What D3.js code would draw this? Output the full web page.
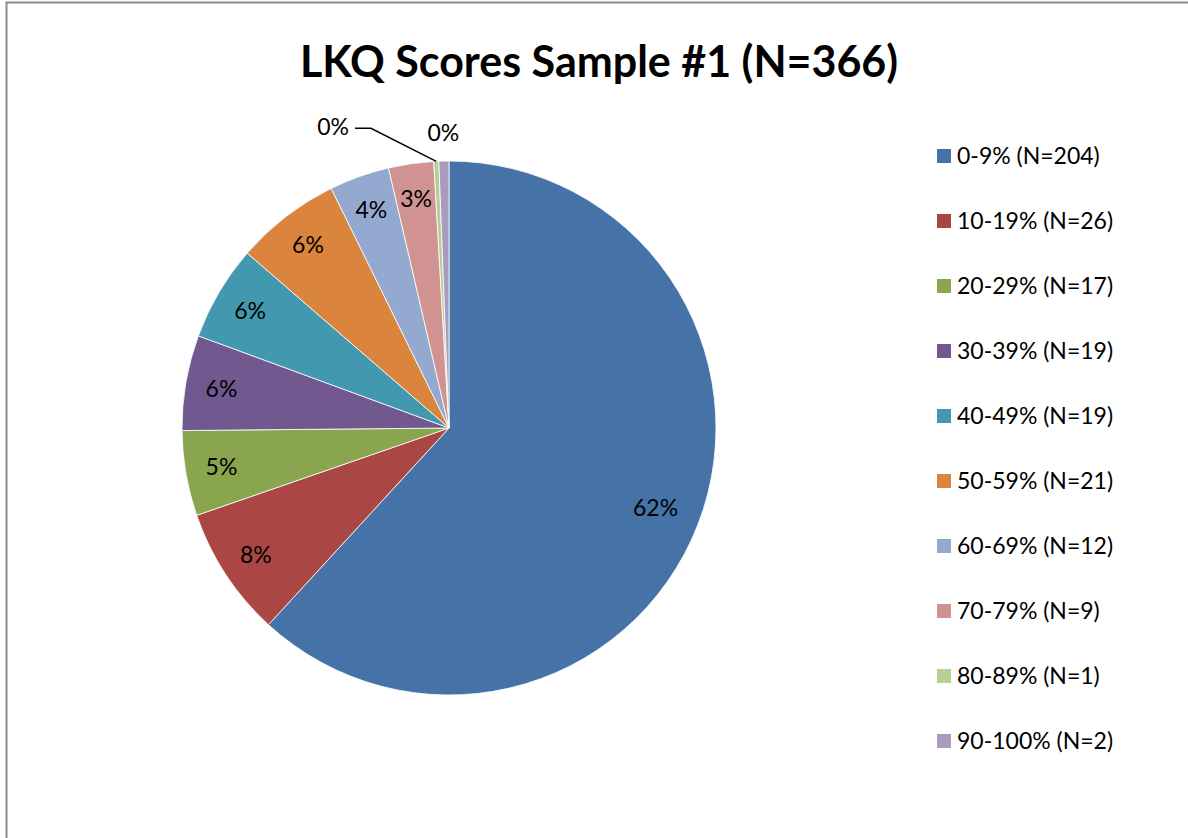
<!DOCTYPE html>
<html>
<head>
<meta charset="utf-8">
<script src="https://cdn.jsdelivr.net/npm/d3@7"></script>
<style>
  body { margin: 0; background: #fff; }
  text { font-family: Lato, "Open Sans", sans-serif; fill: #000; }
</style>
</head>
<body>
<div id="chart"></div>
<script>
  "use strict";

  var categories = ["0-9%", "10-19%", "20-29%", "30-39%", "40-49%", "50-59%", "60-69%", "70-79%", "80-89%", "90-100%"];
  var counts = [204, 26, 17, 19, 19, 21, 12, 9, 1, 2];
  var pctLabels = ["62%", "8%", "5%", "6%", "6%", "6%", "4%", "3%", "0%", "0%"];
  var colors = ["#4572A7", "#AA4643", "#89A54E", "#71588F", "#4198AF", "#DB843D", "#93A9CF", "#D19392", "#B9CD96", "#A99BBD"];
  var title = "LKQ Scores Sample #1 (N=366)";

  var width = 1188, height = 838;
  var cx = 449, cy = 428, radius = 267;

  var svg = d3.select("#chart")
    .append("svg")
    .attr("width", width)
    .attr("height", height);

  // chart frame
  svg.append("rect")
    .attr("x", 6.5).attr("y", 2.5)
    .attr("width", width + 20).attr("height", height + 20)
    .attr("fill", "#fff")
    .attr("stroke", "#8a8a8a")
    .attr("stroke-width", 2);

  svg.append("text")
    .attr("x", 599).attr("y", 77)
    .attr("text-anchor", "middle")
    .style("font-size", "43px")
    .style("font-weight", "bold")
    .text(title);

  var data = categories.map(function(c, i) {
    return { name: c, value: counts[i], label: pctLabels[i], color: colors[i] };
  });

  var pie = d3.pie().sort(null).value(function(d) { return d.value; });
  var arcs = pie(data);
  var arc = d3.arc().innerRadius(0).outerRadius(radius);
  var labelArc = d3.arc().innerRadius(radius * 0.865).outerRadius(radius * 0.865);
  var bigLabelArc = d3.arc().innerRadius(radius * 0.83).outerRadius(radius * 0.83);
  var edgeArc = d3.arc().innerRadius(radius).outerRadius(radius);
  var outerArc = d3.arc().innerRadius(radius * 1.105).outerRadius(radius * 1.105);

  var g = svg.append("g")
    .attr("transform", "translate(" + cx + "," + cy + ")");

  // slices
  g.selectAll("path")
    .data(arcs)
    .enter()
    .append("path")
    .attr("d", arc)
    .attr("fill", function(d) { return d.data.color; })
    .attr("stroke", "#fff")
    .attr("stroke-width", 0.8);

  // inside labels
  var big = arcs.filter(function(d) { return d.endAngle - d.startAngle > 0.1; });
  g.selectAll("text.inner")
    .data(big)
    .enter()
    .append("text")
    .attr("class", "inner")
    .attr("transform", function(d) {
      var p = (d.endAngle - d.startAngle > Math.PI ? bigLabelArc : labelArc).centroid(d);
      return "translate(" + p[0] + "," + (p[1] + 8) + ")";
    })
    .attr("text-anchor", "middle")
    .style("font-size", "23px")
    .text(function(d) { return d.data.label; });

  // outside labels for tiny slices
  var tiny = arcs.filter(function(d) { return d.endAngle - d.startAngle <= 0.1; });
  tiny.forEach(function(d, i) {
    var p = outerArc.centroid(d);
    if (i === 0) {
      // pushed left to avoid overlap, with leader line
      var e = edgeArc.centroid(d);
      var lx = p[0] - 104, ly = p[1] - 6;
      g.append("polyline")
        .attr("points", [[e[0], e[1]], [lx + 40, ly + 1], [lx + 24, ly + 1]].map(function(q) { return q.join(","); }).join(" "))
        .attr("fill", "none")
        .attr("stroke", "#000")
        .attr("stroke-width", 1.5);
      g.append("text")
        .attr("x", lx + 18).attr("y", ly + 8)
        .attr("text-anchor", "end")
        .style("font-size", "23px")
        .text(d.data.label);
    } else {
      g.append("text")
        .attr("x", p[0]).attr("y", p[1] + 8)
        .attr("text-anchor", "middle")
        .style("font-size", "23px")
        .text(d.data.label);
    }
  });

  // legend
  var legendY = d3.scalePoint()
    .domain(categories)
    .range([156, 741]);

  var legend = svg.selectAll("g.legend")
    .data(data)
    .enter()
    .append("g")
    .attr("class", "legend")
    .attr("transform", function(d) { return "translate(937," + legendY(d.name) + ")"; });

  legend.append("rect")
    .attr("x", 0).attr("y", -7)
    .attr("width", 14).attr("height", 14)
    .attr("fill", function(d) { return d.color; });

  legend.append("text")
    .attr("x", 20).attr("y", 8)
    .style("font-size", "23px")
    .text(function(d) { return d.name + " (N=" + d.value + ")"; });
</script>
</body>
</html>
